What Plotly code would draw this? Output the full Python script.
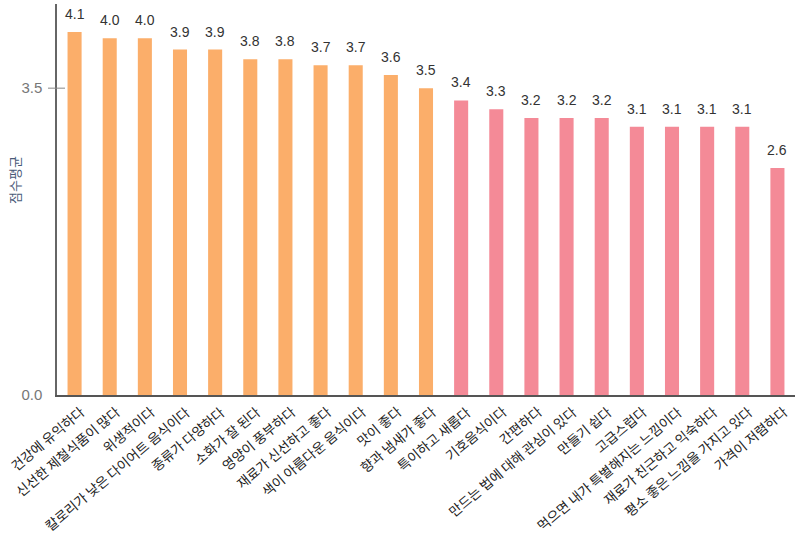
import plotly.graph_objects as go

categories = [
    "건강에 유익하다", "신선한 제철식품이 많다", "위생적이다", "칼로리가 낮은 다이어트 음식이다",
    "종류가 다양하다", "소화가 잘 된다", "영양이 풍부하다", "재료가 신선하고 좋다",
    "색이 아름다운 음식이다", "맛이 좋다", "향과 냄새가 좋다", "특이하고 새롭다",
    "기호음식이다", "간편하다", "만드는 법에 대해 관심이 있다", "만들기 쉽다",
    "고급스럽다", "먹으면 내가 특별해지는 느낌이다", "재료가 친근하고 익숙하다",
    "평소 좋은 느낌을 가지고 있다", "가격이 저렴하다",
]
values = [4.14, 4.07, 4.07, 3.94, 3.94, 3.83, 3.83, 3.76, 3.76, 3.65, 3.50,
          3.36, 3.26, 3.16, 3.16, 3.16, 3.06, 3.06, 3.06, 3.06, 2.59]
value_labels = ["4.1", "4.0", "4.0", "3.9", "3.9", "3.8", "3.8", "3.7", "3.7", "3.6", "3.5",
                "3.4", "3.3", "3.2", "3.2", "3.2", "3.1", "3.1", "3.1", "3.1", "2.6"]
groups = ["A"] * 11 + ["B"] * 10
tick_vals = [0, 3.5]
tick_text = ["0.0", "3.5"]
y_title = "점수평균"

color_map = {"A": "#FBAE6A", "B": "#F48A97"}
colors = [color_map[g] for g in groups]

num_font = "Liberation Sans, Arial"
kr_font = "Noto Sans CJK KR"

fig = go.Figure()
fig.add_trace(go.Bar(
    x=categories, y=values, marker=dict(color=colors, line=dict(width=0)),
    hoverinfo="x+y", showlegend=False,
))

for c, v, t in zip(categories, values, value_labels):
    fig.add_annotation(x=c, y=v, text=t, showarrow=False, yanchor="bottom",
                       yshift=8, font=dict(family=num_font, size=14, color="#333333"))

# rotated category labels (end of text anchored just right of each bar)
for c in categories:
    fig.add_annotation(x=c, y=0, text=c, showarrow=False, textangle=-40,
                       xanchor="right", yanchor="top", xshift=14, yshift=-6,
                       borderpad=0, borderwidth=0,
                       font=dict(family=kr_font, size=13.5, color="#222222"))

# y-axis title
fig.add_annotation(xref="paper", yref="paper", x=-42 / 738, y=0.55, text=y_title,
                   textangle=-90, showarrow=False, xanchor="center", yanchor="middle",
                   font=dict(family=kr_font, size=13, color="#4A5A78"))

# crossing tick at 3.5
fig.add_shape(type="line", xref="paper", yref="y", x0=-9 / 738, x1=8 / 738, y0=3.5, y1=3.5,
              line=dict(color="#888888", width=1))

fig.update_layout(
    width=800, height=547,
    margin=dict(l=57, r=5, t=4, b=152, autoexpand=False),
    paper_bgcolor="white", plot_bgcolor="white",
    bargap=0.6,
    xaxis=dict(
        type="category", range=[-0.5, len(categories) - 0.5], autorange=False,
        showgrid=False, zeroline=False, showticklabels=False,
        showline=True, linecolor="#555555", linewidth=1.5, ticks="",
        automargin=False,
    ),
    yaxis=dict(
        range=[0, 4.46], autorange=False, tickvals=tick_vals, ticktext=tick_text, showgrid=False,
        zeroline=False, showline=True, linecolor="#666666", linewidth=1.5, ticks="",
        ticklabelstandoff=10,
        tickfont=dict(family=num_font, size=15, color="#777777"),
        automargin=False,
    ),
)

fig.write_html("out.html")
